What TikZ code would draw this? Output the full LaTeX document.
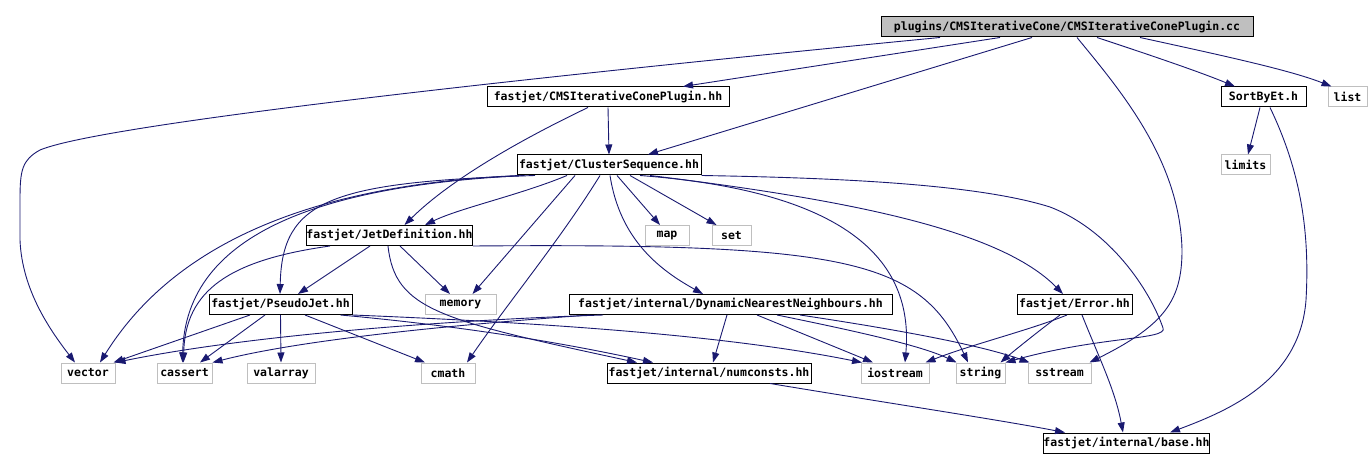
\documentclass[tikz,border=0pt]{standalone}
\usepackage{fontspec}
\newfontfamily\dox{DejaVu Sans Mono Bold}
\usetikzlibrary{arrows.meta}
\definecolor{edgeblue}{HTML}{191970}
\definecolor{sysgray}{HTML}{BFBFBF}
\tikzset{
  filebox/.style={draw=black, line width=1pt, rectangle, inner sep=0pt, minimum height=20pt, font=\dox\fontsize{11.5}{12}\selectfont, text=black},
  sysbox/.style={filebox, draw=sysgray},
  rootbox/.style={filebox, fill=sysgray},
  edge/.style={draw=edgeblue, line width=0.9pt, -{Triangle[length=10pt,width=7pt,fill=edgeblue]}},
}
\begin{document}
\begin{tikzpicture}[x=1pt,y=-1pt]
\useasboundingbox (0,0) rectangle (1370,470);
% nodes
\node[rootbox, minimum width=372pt] (root) at (1067,27) {plugins/CMSIterativeCone/CMSIterativeConePlugin.cc};
\node[filebox, minimum width=242pt] (plug) at (608,97) {fastjet/CMSIterativeConePlugin.hh};
\node[filebox, minimum width=85pt] (sort) at (1263.5,97) {SortByEt.h};
\node[sysbox, minimum width=39pt] (list) at (1347.5,97) {list};
\node[filebox, minimum width=184pt] (cs) at (609,165) {fastjet/ClusterSequence.hh};
\node[sysbox, minimum width=49pt] (limits) at (1245.5,165) {limits};
\node[filebox, minimum width=165pt] (jet) at (389.5,235.5) {fastjet/JetDefinition.hh};
\node[sysbox, minimum width=44pt] (map) at (667,235.5) {map};
\node[sysbox, minimum width=39pt] (set) at (731.5,235.5) {set};
\node[filebox, minimum width=143pt] (pj) at (280.5,304.5) {fastjet/PseudoJet.hh};
\node[sysbox, minimum width=71pt] (memory) at (460.5,304.5) {memory};
\node[filebox, minimum width=323pt] (dnn) at (730.5,304.5) {fastjet/internal/DynamicNearestNeighbours.hh};
\node[filebox, minimum width=115pt] (error) at (1074.5,304.5) {fastjet/Error.hh};
\node[sysbox, minimum width=54pt] (vector) at (88,373) {vector};
\node[sysbox, minimum width=55pt] (cassert) at (184.5,373) {cassert};
\node[sysbox, minimum width=68pt] (valarray) at (281,373) {valarray};
\node[sysbox, minimum width=54pt] (cmath) at (448,373) {cmath};
\node[filebox, minimum width=204pt] (numconsts) at (709,373) {fastjet/internal/numconsts.hh};
\node[sysbox, minimum width=68pt] (iostream) at (895,373) {iostream};
\node[sysbox, minimum width=49pt] (string) at (980.5,373) {string};
\node[sysbox, minimum width=63pt] (sstream) at (1059.5,373) {sstream};
\node[filebox, minimum width=163pt] (base) at (1126.5,443) {fastjet/internal/base.hh};
% edges from root
\draw[edge] ([xshift=-127pt]root.south) .. controls (500,80) and (100,125) .. (40,150)
  .. controls (22,160) and (20,170) .. (20,200) -- (20,240)
  .. controls (22,290) and (50,330) .. ([xshift=-13pt]vector.north);
\draw[edge] ([xshift=-67pt]root.south) -- ([xshift=75pt]plug.north);
\draw[edge] ([xshift=-35pt]root.south) -- ([xshift=39pt]cs.north);
\draw[edge] ([xshift=30pt]root.south) .. controls (1150,55) and (1200,72) .. ([xshift=-28.5pt]sort.north);
\draw[edge] ([xshift=73pt]root.south) .. controls (1220,55) and (1290,70) .. ([xshift=4pt]list.north west);
\draw[edge] ([xshift=10pt]root.south) .. controls (1120,90) and (1180,160) .. (1182,250)
  .. controls (1182,300) and (1165,325) .. ([xshift=-2pt]sstream.north east);
% plug
\draw[edge] (plug.south) -- (cs.north);
\draw[edge] ([xshift=-20pt]plug.south) .. controls (520,140) and (450,180) .. ([xshift=15pt]jet.north);
% cs
\draw[edge] ([xshift=-42pt]cs.south) .. controls (520,195) and (460,208) .. ([xshift=35.5pt]jet.north);
\draw[edge] ([xshift=-74pt]cs.south) .. controls (330,182) and (282,200) .. ([xshift=-0.5pt]pj.north);
\draw[edge] ([xshift=3pt]cs.south west) .. controls (300,185) and (170,250) .. ([xshift=12pt]vector.north);
\draw[edge] ([xshift=8pt]cs.south west) .. controls (330,185) and (185,230) .. ([xshift=-2pt]cassert.north);
\draw[edge] ([xshift=-34pt]cs.south) -- ([xshift=12pt]memory.north);
\draw[edge] ([xshift=-9pt]cs.south) .. controls (560,240) and (510,300) .. ([xshift=19pt]cmath.north);
\draw[edge] ([xshift=8pt]cs.south) -- ([xshift=-7pt]map.north);
\draw[edge] ([xshift=21pt]cs.south) -- ([xshift=-15pt]set.north);
\draw[edge] ([xshift=1pt]cs.south) .. controls (620,240) and (660,270) .. ([xshift=-27.5pt]dnn.north);
\draw[edge] ([xshift=41pt]cs.south) .. controls (850,200) and (1000,230) .. ([xshift=-11.5pt]error.north);
\draw[edge] ([xshift=31pt]cs.south) .. controls (830,190) and (915,250) .. ([xshift=10pt]iostream.north);
\draw[edge] (cs.south east) .. controls (850,178) and (980,185) .. (1050,207)
  .. controls (1110,230) and (1150,290) .. (1163,328)
  .. controls (1168,340) and (1100,336) .. (string.north east);
% sort
\draw[edge] ([xshift=-3.5pt]sort.south) -- ([xshift=2.5pt]limits.north);
\draw[edge] ([xshift=6.5pt]sort.south) .. controls (1300,170) and (1310,230) .. (1306,300)
  .. controls (1300,380) and (1230,410) .. ([xshift=43.5pt]base.north);
% jet
\draw[edge] ([xshift=-19.5pt]jet.south) -- ([xshift=17.5pt]pj.north);
\draw[edge] ([xshift=10.5pt]jet.south) -- ([xshift=-10.5pt]memory.north);
\draw[edge] ([xshift=-59.5pt]jet.south) .. controls (230,260) and (185,290) .. ([xshift=-1pt]cassert.north);
\draw[edge] ([xshift=-1.5pt]jet.south) .. controls (395,310) and (440,320) .. ([xshift=-72pt]numconsts.north);
\draw[edge] (jet.south east) .. controls (850,243) and (920,260) .. ([xshift=-12.5pt]string.north);
% pj
\draw[edge] ([xshift=-30.5pt]pj.south) -- ([xshift=-2pt]vector.north east);
\draw[edge] ([xshift=-15.5pt]pj.south) -- ([xshift=15.5pt]cassert.north);
\draw[edge] (pj.south) -- (valarray.north);
\draw[edge] ([xshift=24.5pt]pj.south) -- ([xshift=-23pt]cmath.north);
\draw[edge] ([xshift=-12pt]pj.south east) .. controls (450,325) and (550,340) .. ([xshift=-56pt]numconsts.north);
\draw[edge] (pj.south east) .. controls (600,325) and (750,340) .. ([xshift=-33pt]iostream.north);
% dnn
\draw[edge] ([xshift=-127.5pt]dnn.south) .. controls (450,320) and (250,335) .. (vector.north east);
\draw[edge] ([xshift=-140.5pt]dnn.south) .. controls (450,325) and (300,340) .. (cassert.north east);
\draw[edge] ([xshift=-3.5pt]dnn.south) -- ([xshift=4pt]numconsts.north);
\draw[edge] ([xshift=26.5pt]dnn.south) -- ([xshift=-22pt]iostream.north);
\draw[edge] ([xshift=46.5pt]dnn.south) .. controls (850,330) and (920,345) .. ([xshift=1pt]string.north west);
\draw[edge] ([xshift=69.5pt]dnn.south) .. controls (900,330) and (980,345) .. ([xshift=2pt]sstream.north west);
% error
\draw[edge] ([xshift=-7.5pt]error.south) .. controls (1030,330) and (970,345) .. ([xshift=-4pt]iostream.north east);
\draw[edge] ([xshift=-14.5pt]error.south) .. controls (1040,330) and (1015,350) .. ([xshift=-5pt]string.north east);
\draw[edge] ([xshift=7.5pt]error.south) .. controls (1100,360) and (1115,390) .. ([xshift=-3.5pt]base.north);
% numconsts
\draw[edge] ([xshift=61pt]numconsts.south) .. controls (900,405) and (1000,420) .. ([xshift=-61.5pt]base.north);
\end{tikzpicture}
\end{document}
